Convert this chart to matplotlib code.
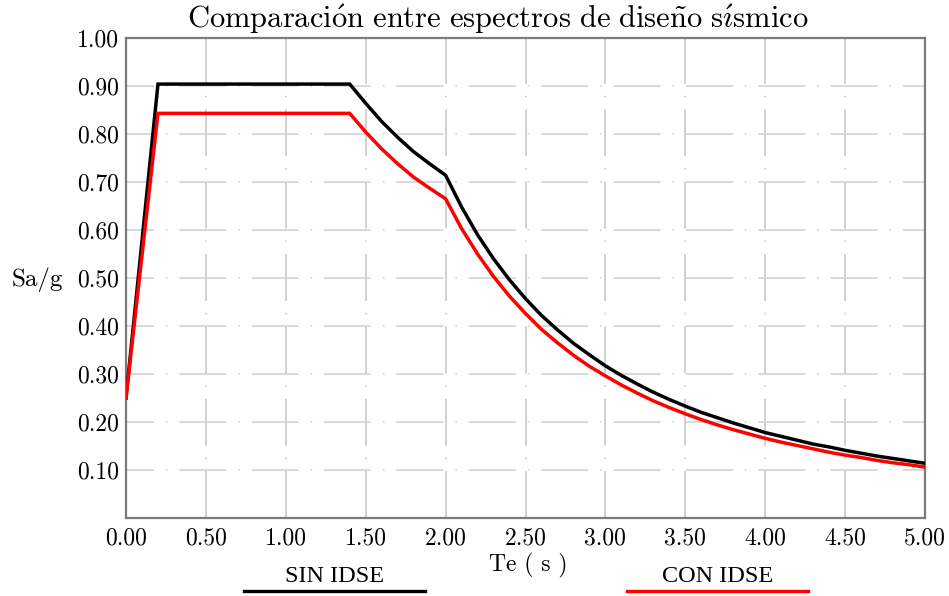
import matplotlib
matplotlib.use("Agg")
import matplotlib.pyplot as plt
from matplotlib.lines import Line2D
from matplotlib.ticker import FixedLocator, FormatStrFormatter
from matplotlib import font_manager, ft2font

plt.rcParams["font.family"] = ["cmr10", "DejaVu Serif"]
plt.rcParams["mathtext.fontset"] = "cm"
plt.rcParams["axes.formatter.use_mathtext"] = True
plt.rcParams["lines.scale_dashes"] = False

# Periods (s) and spectral accelerations (Sa/g)
periods = [0.0, 0.2, 1.4, 1.5, 1.6, 1.7, 1.8, 1.9, 2.0,
           2.1, 2.2, 2.3, 2.4, 2.5, 2.6, 2.7, 2.8, 2.9, 3.0,
           3.1, 3.2, 3.3, 3.4, 3.5, 3.6, 3.7, 3.8, 3.9, 4.0,
           4.1, 4.2, 4.3, 4.4, 4.5, 4.6, 4.7, 4.8, 4.9, 5.0]

sa_sin_idse = [0.250, 0.904, 0.904, 0.864, 0.826, 0.793, 0.763, 0.738, 0.714,
               0.648, 0.590, 0.540, 0.496, 0.457, 0.422, 0.392, 0.364, 0.340, 0.317,
               0.297, 0.279, 0.262, 0.247, 0.233, 0.220, 0.209, 0.198, 0.188, 0.178,
               0.170, 0.162, 0.154, 0.148, 0.141, 0.135, 0.129, 0.124, 0.119, 0.114]

sa_con_idse = [0.250, 0.843, 0.843, 0.804, 0.769, 0.738, 0.710, 0.687, 0.665,
               0.603, 0.550, 0.503, 0.462, 0.426, 0.393, 0.365, 0.339, 0.316, 0.296,
               0.277, 0.260, 0.244, 0.230, 0.217, 0.205, 0.194, 0.184, 0.175, 0.166,
               0.158, 0.151, 0.144, 0.137, 0.131, 0.126, 0.120, 0.115, 0.111, 0.106]

x_ticks = [0.0, 0.5, 1.0, 1.5, 2.0, 2.5, 3.0, 3.5, 4.0, 4.5, 5.0]
y_ticks = [0.1, 0.2, 0.3, 0.4, 0.5, 0.6, 0.7, 0.8, 0.9, 1.0]

title_text = "Comparación entre espectros de diseño sísmico"

# use the plain Computer Modern face if it carries the accented letters,
# otherwise build the accents with mathtext
cm_chars = ft2font.FT2Font(font_manager.findfont("cmr10")).get_charmap()
if all(ord(c) in cm_chars for c in "óñí"):
    title_label = title_text
else:
    title_label = (r"$\mathrm{Comparaci\acute{o}n\ entre\ espectros\ "
                   r"de\ dise\tilde{n}o\ s\acute{\imath}smico}$")

W, H = 949, 596
fig = plt.figure(figsize=(W / 100, H / 100), dpi=100)
ax = fig.add_axes([126 / W, (H - 518) / H, (925 - 126) / W, (518 - 38) / H])

ax.plot(periods, sa_sin_idse, color="black", lw=2.5, zorder=3, solid_joinstyle="miter")
ax.plot(periods, sa_con_idse, color="#ff0000", lw=2.5, zorder=4, solid_joinstyle="miter")

ax.set_xlim(0, 5)
ax.set_ylim(0, 1)
ax.xaxis.set_major_locator(FixedLocator(x_ticks))
ax.yaxis.set_major_locator(FixedLocator(y_ticks))
ax.xaxis.set_major_formatter(FormatStrFormatter("%.2f"))
ax.yaxis.set_major_formatter(FormatStrFormatter("%.2f"))
ax.tick_params(axis="both", length=0, labelsize=17)
ax.tick_params(axis="x", pad=7)
ax.tick_params(axis="y", pad=5)

# dash-dot grid
ax.yaxis.grid(True, color="#d8d8d8", lw=1.4, linestyle=(13.7, (33.8, 8.6, 1.1, 8.6)), zorder=1)
ax.xaxis.grid(True, color="#d0d0d0", lw=1.4, linestyle=(0, (33.8, 8.6, 1.1, 8.6)), zorder=1)

for sp in ax.spines.values():
    sp.set_color("#7a7a7a")
    sp.set_linewidth(1.6)

fig.text(497.5 / W, (H - 19) / H, title_label, ha="center", va="center", fontsize=22)
fig.text(37 / W, (H - 280) / H, "Sa/g", ha="center", va="center", fontsize=18)
fig.text(528 / W, (H - 565) / H, "Te ( s )", ha="center", va="center", fontsize=17)

# legend entries below the axes
legend_entries = [("SIN IDSE", "black", 244, 425), ("CON IDSE", "#ff0000", 627, 808)]
for label, color, x0, x1 in legend_entries:
    fig.text((x0 + x1) / 2 / W, (H - 577) / H, label, ha="center", va="center",
             fontsize=17.5, family="Liberation Serif")
    fig.add_artist(Line2D([x0 / W, x1 / W], [(H - 591) / H, (H - 591) / H],
                          transform=fig.transFigure, color=color, lw=2.4))

fig.savefig("out.png", dpi=100)
